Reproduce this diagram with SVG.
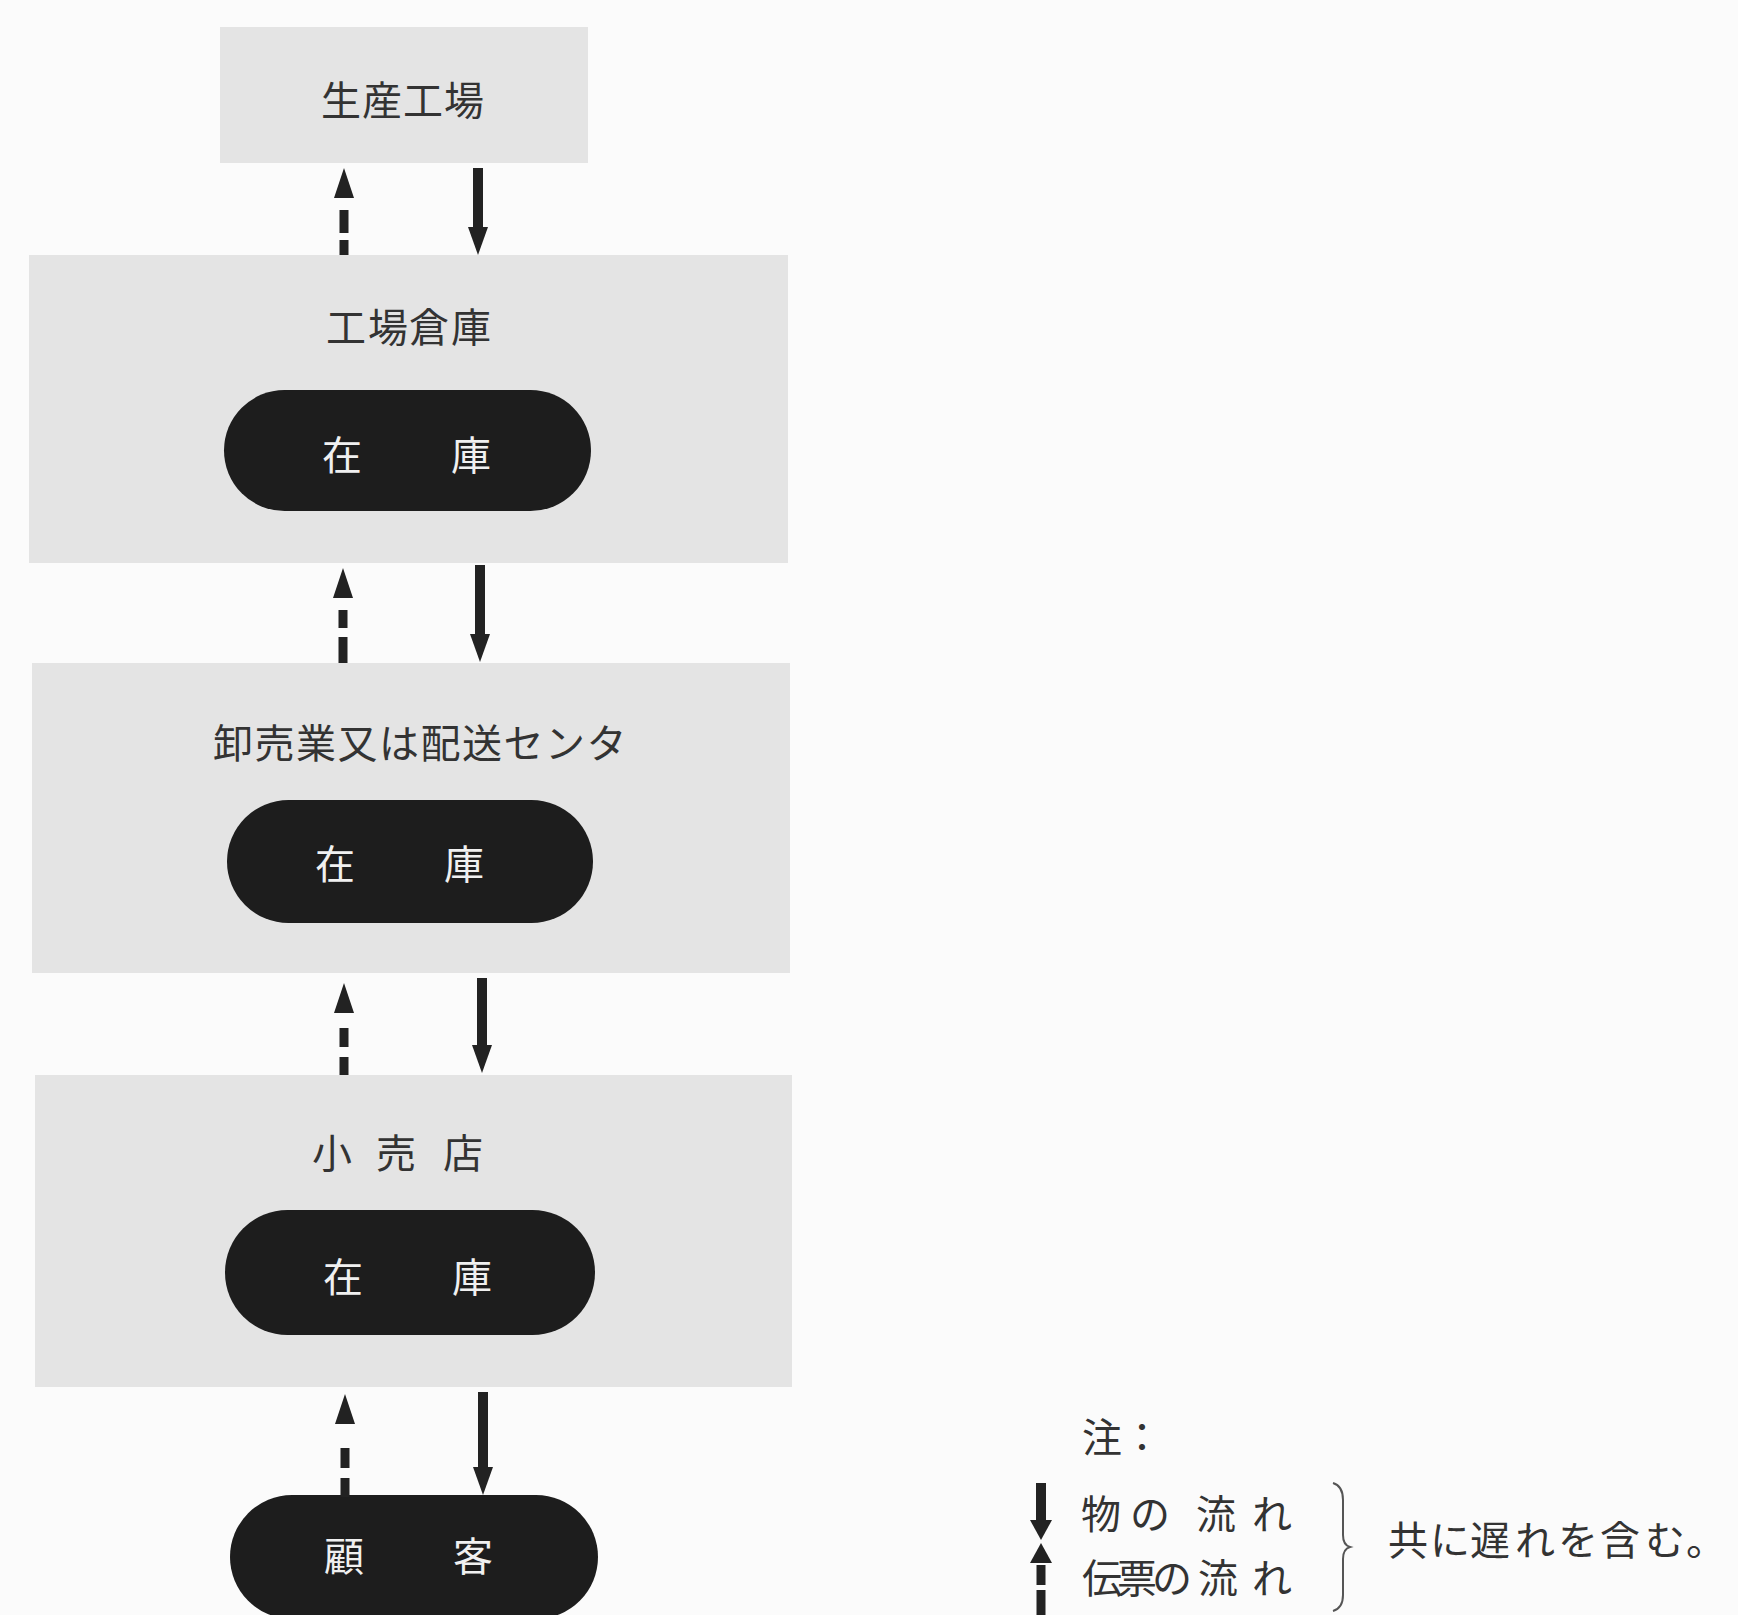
<svg xmlns="http://www.w3.org/2000/svg" width="1738" height="1615" viewBox="0 0 1738 1615">
<style>
.box{fill:#e4e4e4}
.pill{fill:#1d1d1d}
.t{font-family:"Noto Sans CJK JP","Noto Sans CJK SC",sans-serif;font-size:40px;text-anchor:middle;dominant-baseline:central}
.dark{fill:#333}
.light{fill:#f0f0f0}
.solid{stroke:#222;stroke-width:10;fill:none}
.dash{stroke:#222;stroke-width:9;fill:none}
.brace{stroke:#555;stroke-width:2;fill:none}
</style>
<defs>
<marker id="down" markerUnits="userSpaceOnUse" viewBox="0 0 28 20" markerWidth="28" markerHeight="20" refX="0" refY="10" orient="auto">
<path d="M0,0 L28,10 L0,20 z" fill="#222"/>
</marker>
<marker id="up" markerUnits="userSpaceOnUse" viewBox="0 0 30 20" markerWidth="30" markerHeight="20" refX="0" refY="10" orient="auto">
<path d="M0,0 L30,10 L0,20 z" fill="#222"/>
</marker>
<marker id="small" markerUnits="userSpaceOnUse" viewBox="0 0 20 22" markerWidth="20" markerHeight="22" refX="0" refY="11" orient="auto">
<path d="M0,0 L20,11 L0,22 z" fill="#222"/>
</marker>
</defs>
<rect x="0" y="0" width="1738" height="1615" fill="#fbfbfb"/>

<g id="factory">
<rect class="box" x="220" y="27" width="368" height="136"/>
<text class="t dark" x="341 382 423 464" y="98">生産工場</text>
</g>

<g id="factory-warehouse">
<rect class="box" x="29" y="255" width="759" height="308"/>
<text class="t dark" x="346 388 429 471" y="325">工場倉庫</text>
<rect class="pill" x="224" y="390" width="367" height="121" rx="60.5"/>
<text class="t light" x="342 471" y="453">在庫</text>
</g>

<g id="wholesale">
<rect class="box" x="32" y="663" width="758" height="310"/>
<text class="t dark" x="233 274.5 316 357.5 399 440.5 482 523.5 565 606.5" y="741">卸売業又は配送センタ</text>
<rect class="pill" x="227" y="800" width="366" height="123" rx="61.5"/>
<text class="t light" x="335 464" y="862">在庫</text>
</g>

<g id="retail">
<rect class="box" x="35" y="1075" width="757" height="312"/>
<text class="t dark" x="332 396 463" y="1151">小売店</text>
<rect class="pill" x="225" y="1210" width="370" height="125" rx="62.5"/>
<text class="t light" x="343 472" y="1275">在庫</text>
</g>

<g id="customer">
<rect class="pill" x="230" y="1495" width="368" height="124" rx="62"/>
<text class="t light" x="344 473" y="1554">顧客</text>
</g>

<g id="connectors">
<line class="solid" x1="478" y1="168" x2="478" y2="227" marker-end="url(#down)"/>
<line class="dash" x1="344" y1="255" x2="344" y2="198" stroke-dasharray="15 7 23 15" marker-end="url(#up)"/>
<line class="solid" x1="480" y1="565" x2="480" y2="634" marker-end="url(#down)"/>
<line class="dash" x1="343" y1="663" x2="343" y2="598" stroke-dasharray="26 9 18 12" marker-end="url(#up)"/>
<line class="solid" x1="482" y1="978" x2="482" y2="1045" marker-end="url(#down)"/>
<line class="dash" x1="344" y1="1075" x2="344" y2="1013" stroke-dasharray="18 10 19 15" marker-end="url(#up)"/>
<line class="solid" x1="483" y1="1392" x2="483" y2="1467" marker-end="url(#down)"/>
<line class="dash" x1="345" y1="1497" x2="345" y2="1424" stroke-dasharray="19 10 20 24" marker-end="url(#up)"/>
</g>

<g id="legend">
<text class="t dark" x="1102 1142" y="1435">注：</text>
<line class="solid" x1="1041" y1="1483" x2="1041" y2="1520" marker-end="url(#small)"/>
<text class="t dark" x="1101 1150 1216 1272" y="1512">物の流れ</text>
<line class="dash" x1="1041" y1="1615" x2="1041" y2="1563" stroke-dasharray="25 5 20 3" marker-end="url(#small)"/>
<text class="t dark" x="1102 1137 1172 1218 1272" y="1576">伝票の流れ</text>
<path class="brace" d="M1333,1483 Q1343,1486 1343,1500 L1343,1535 Q1343,1545 1350,1547 Q1343,1549 1343,1559 L1343,1595 Q1343,1608 1333,1611"/>
<text class="t dark" x="1408 1450 1490 1535 1578 1620 1665 1706" y="1538">共に遅れを含む。</text>
</g>
</svg>
